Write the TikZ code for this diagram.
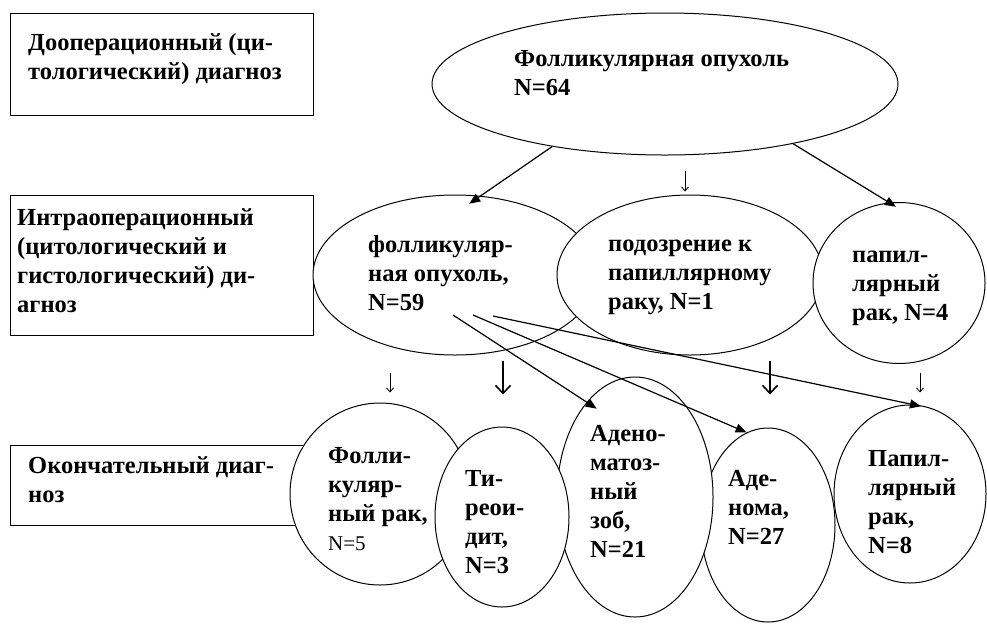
\documentclass[tikz,border=0pt]{standalone}
\usepackage{fontspec}
\setmainfont{Liberation Serif}
\usetikzlibrary{shapes.geometric,arrows.meta}
\begin{document}
\begin{tikzpicture}[x=1pt,y=-1pt]
  \tikzset{block/.style={shape=rectangle,draw,line width=1.3pt,anchor=north west,inner sep=0pt}};
  \tikzset{oval/.style={shape=ellipse,draw,fill=white,line width=1pt,inner sep=0pt}};
  \tikzset{txt/.style={anchor=north west,align=left,inner sep=0pt,font=\fontsize{24.5}{29}\selectfont\bfseries}};
  \tikzset{link/.style={line width=1.2pt,-{Triangle[length=11pt,width=9pt]}}};
  \tikzset{thinarr/.style={line width=0.8pt,-{Straight Barb[length=4pt,width=7pt]}}};
  \tikzset{boldarr/.style={line width=2.6pt,-{Straight Barb[length=8pt,width=15pt,line width=1.6pt]}}};
  \useasboundingbox (0,0) rectangle (987,625);
  \node[block,minimum width=303pt,minimum height=102pt](PreBox) at (10,13){};
  \node[block,minimum width=303pt,minimum height=140pt](IntraBox) at (10,195){};
  \node[block,minimum width=310pt,minimum height=80pt](FinBox) at (10,445){};
  \node[txt](tPreBox) at (28,30){\strut Дооперационный (ци-\\тологический) диагноз};
  \node[txt](tIntraBox) at (17,205){\strut Интраоперационный\\(цитологический и\\гистологический) ди-\\агноз};
  \node[txt](tFinBox) at (28,453){\strut Окончательный диаг-\\ноз};
  \node[oval,minimum width=466pt,minimum height=142pt](Pre) at (665,84){};
  \node[oval,minimum width=284pt,minimum height=160pt](IntraFol) at (455,275){};
  \node[oval,minimum width=266pt,minimum height=160pt](IntraSusp) at (690,275){};
  \node[oval,minimum width=172pt,minimum height=161pt](IntraPap) at (899,283){};
  \node[oval,minimum width=152pt,minimum height=178pt](FinPap) at (910,494){};
  \node[oval,minimum width=134pt,minimum height=194pt](FinAdenoma) at (768,525){};
  \node[oval,minimum width=156pt,minimum height=240pt](FinAden) at (635,497){};
  \node[oval,minimum width=180pt,minimum height=182pt](FinFol) at (380,494){};
  \node[oval,minimum width=134pt,minimum height=180pt](FinThy) at (502,517){};
  \node[txt](tPre) at (514,46){\strut Фолликулярная опухоль\\N=64};
  \node[txt](tIntraFol) at (368,232){\strut фолликуляр-\\ная опухоль,\\N=59};
  \node[txt](tIntraSusp) at (608,231){\strut подозрение к\\папиллярному\\раку, N=1};
  \node[txt](tIntraPap) at (852,242){\strut папил-\\лярный\\рак, N=4};
  \node[txt](tFinFol) at (328,443){\strut Фолли-\\куляр-\\ный рак,\\{\fontsize{21}{29}\selectfont\mdseries N=5}};
  \node[txt](tFinThy) at (465,466){\strut Ти-\\реои-\\дит,\\N=3};
  \node[txt](tFinAden) at (590,421){\strut Адено-\\матоз-\\ный\\зоб,\\N=21};
  \node[txt](tFinAdenoma) at (728,466){\strut Аде-\\нома,\\N=27};
  \node[txt](tFinPap) at (868,446){\strut Папил-\\лярный\\рак,\\N=8};
  \draw[link,shorten >=-14pt] (Pre.209) -- (IntraFol.72);
  \draw[link,shorten >=-8pt] (Pre.335) -- (IntraPap.97);
  \draw[thinarr] ([xshift=20pt,yshift=-15pt]Pre.south) -- ([xshift=-5pt,yshift=3pt]IntraSusp.north);
  \draw[link,shorten >=-12pt] ([xshift=-2pt,yshift=-40pt]IntraFol.center) -- (FinAden.117);
  \draw[link] ([xshift=18pt,yshift=-40pt]IntraFol.center) -- (FinAdenoma.103);
  \draw[link,shorten >=-8pt] ([xshift=38pt,yshift=-41pt]IntraFol.center) -- (FinPap.88);
  \draw[thinarr] ([xshift=-65pt,yshift=-17pt]IntraFol.south) -- ([xshift=10pt,yshift=10pt]FinFol.north);
  \draw[boldarr] ([xshift=48pt,yshift=-5pt]IntraFol.south) -- ([xshift=1pt,yshift=32pt]FinThy.north);
  \draw[boldarr] ([xshift=80pt,yshift=-5pt]IntraSusp.south) -- ([xshift=2pt,yshift=33pt]FinAdenoma.north);
  \draw[thinarr] ([xshift=21pt,yshift=-9pt]IntraPap.south) -- ([xshift=10pt,yshift=12pt]FinPap.north);
\end{tikzpicture}
\end{document}
